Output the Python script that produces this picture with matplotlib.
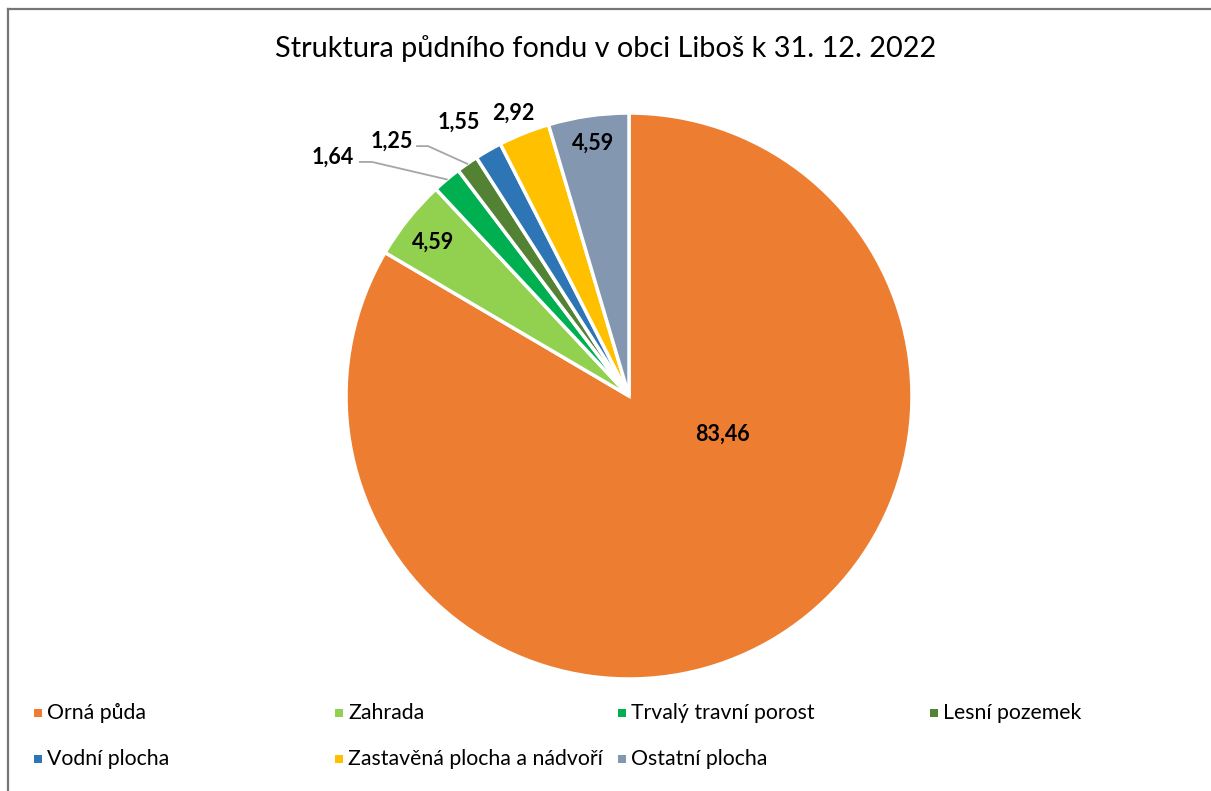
import matplotlib
matplotlib.use("Agg")
import matplotlib.pyplot as plt
from matplotlib.patches import Rectangle
from matplotlib.lines import Line2D
import numpy as np

plt.rcParams["font.family"] = ["Lato", "DejaVu Sans"]

# --- data -------------------------------------------------------------------
title = "Struktura půdního fondu v obci Liboš k 31. 12. 2022"
categories = ["Orná půda", "Zahrada", "Trvalý travní porost", "Lesní pozemek",
              "Vodní plocha", "Zastavěná plocha a nádvoří", "Ostatní plocha"]
values = [83.46, 4.59, 1.64, 1.25, 1.55, 2.92, 4.59]
colors = ["#ed7d31", "#92d050", "#00b050", "#548235",
          "#2e75b6", "#ffc000", "#8497b0"]

# label placement (pie units, radius 1) -- Excel "best fit" positions
label_pos = [(0.329, -0.134), (-0.693, 0.544), (-1.046, 0.845),
             (-0.837, 0.901), (-0.601, 0.968), (-0.410, 1.000),
             (-0.127, 0.894)]
# leader lines: slice index -> (elbow point, end point near the text)
leaders = {2: ((-0.908, 0.827), (-0.951, 0.827)),
           3: ((-0.710, 0.883), (-0.749, 0.883))}

W, H = 1211, 791
fig = plt.figure(figsize=(W / 100, H / 100), dpi=100)
fig.patch.set_facecolor("white")

# chart frame (only top / left visible, cropped screenshot)
fig.add_artist(Line2D([8 / W, 8 / W], [0, 1 - 9 / H], transform=fig.transFigure,
                      color="#767676", lw=1.6))
fig.add_artist(Line2D([8 / W, 1], [1 - 9 / H, 1 - 9 / H], transform=fig.transFigure,
                      color="#767676", lw=1.6))

cx, cy, r = 629, 396, 283
ax = fig.add_axes([(cx - r) / W, (H - cy - r) / H, 2 * r / W, 2 * r / H])

wedges, _ = ax.pie(values, colors=colors, startangle=90, counterclock=False,
                   radius=1, wedgeprops=dict(edgecolor="white", linewidth=2.5),
                   labels=None)
ax.set_xlim(-1, 1)
ax.set_ylim(-1, 1)
ax.set_aspect("equal")
ax.axis("off")
for w in wedges:
    w.set_clip_on(False)

for v, (lx, ly) in zip(values, label_pos):
    ax.text(lx, ly, f"{v:.2f}".replace(".", ","), ha="center", va="center",
            fontsize=15.5, fontweight="bold", color="black", clip_on=False)

for i, (elbow, end) in leaders.items():
    w = wedges[i]
    mid = np.deg2rad((w.theta1 + w.theta2) / 2)
    p0 = (np.cos(mid), np.sin(mid))
    ax.plot([p0[0], elbow[0], end[0]], [p0[1], elbow[1], end[1]],
            color="#a6a6a6", lw=1.3, clip_on=False)

fig.text(0.5, 1 - 49 / H, title, ha="center", va="center", fontsize=20.8,
         color="#000000")

# legend (Excel style: small square markers, fixed column slots)
col_x = [38, 339, 622, 934]
row_y = [713, 759]
for k, (name, c) in enumerate(zip(categories, colors)):
    row, col = divmod(k, 4)
    x, y = col_x[col], row_y[row]
    fig.add_artist(Rectangle(((x - 4) / W, 1 - (y + 4) / H), 8 / W, 8 / H,
                             transform=fig.transFigure, facecolor=c,
                             edgecolor="none"))
    fig.text((x + 9) / W, 1 - y / H, name, ha="left", va="center",
             fontsize=15.3, color="#000000")

fig.savefig("out.png", dpi=100, facecolor=fig.get_facecolor())
